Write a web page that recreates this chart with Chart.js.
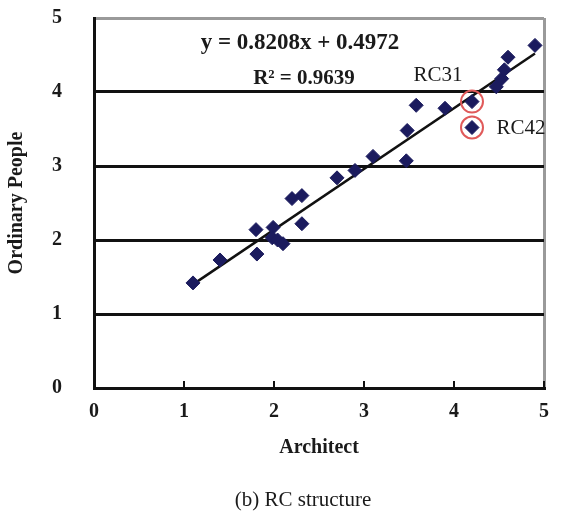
<!DOCTYPE html>
<html lang="en">
<head>
    <meta charset="UTF-8">
    <title>RC structure</title>
    <style>
        body { margin: 0; background: #fff; }
        #chart { display: block; }
    </style>
</head>
<body>
    <canvas id="chart" width="567" height="520"></canvas>

    <script src="https://cdn.jsdelivr.net/npm/chart.js"></script>
    <script>
        // Architect score vs ordinary people score (RC structure)
        var architect = [1.1, 1.4, 1.8, 1.81, 1.99, 1.98, 2.04, 2.1, 2.2, 2.31, 2.31, 2.7, 2.9, 3.1, 3.47, 3.48, 3.58, 3.9, 4.2, 4.2, 4.47, 4.53, 4.56, 4.6, 4.9];
        var ordinary  = [1.42, 1.73, 2.14, 1.81, 2.17, 2.03, 2.0, 1.95, 2.56, 2.6, 2.22, 2.84, 2.94, 3.13, 3.07, 3.48, 3.82, 3.78, 3.87, 3.52, 4.07, 4.18, 4.3, 4.47, 4.63];

        // highlighted buildings
        var markedNames = ['RC31', 'RC42'];
        var markedX = [4.2, 4.2];
        var markedY = [3.87, 3.52];

        // regression line from the fitted equation
        var slope = 0.8208;
        var intercept = 0.4972;
        var rSquared = 0.9639;
        var lineX = [1.1, 4.9];

        var tickValues = [0, 1, 2, 3, 4, 5];

        var serif = "'Liberation Serif', 'Times New Roman', serif";

        var points = architect.map(function (x, i) {
            return { x: x, y: ordinary[i] };
        });
        var marked = markedX.map(function (x, i) {
            return { x: x, y: markedY[i] };
        });
        var trend = lineX.map(function (x) {
            return { x: x, y: slope * x + intercept };
        });

        // texts, inward tick marks and caption
        var extras = {
            id: 'extras',
            afterDraw: function (chart) {
                var ctx = chart.ctx;
                var xs = chart.scales.x;
                var area = chart.chartArea;
                ctx.save();
                ctx.strokeStyle = '#111';
                ctx.lineWidth = 2;
                tickValues.forEach(function (v) {
                    if (v === 0) return;
                    var px = xs.getPixelForValue(v);
                    ctx.beginPath();
                    ctx.moveTo(px, area.bottom);
                    ctx.lineTo(px, area.bottom - 7);
                    ctx.stroke();
                });

                ctx.fillStyle = '#1a1a1a';
                ctx.textAlign = 'center';
                ctx.textBaseline = 'middle';
                ctx.font = 'bold 23px ' + serif;
                ctx.fillText('y = ' + slope + 'x + ' + intercept, 300, 43);
                ctx.font = 'bold 21px ' + serif;
                ctx.fillText('R\u00B2 = ' + rSquared, 304, 79);

                ctx.font = '21px ' + serif;
                ctx.fillText(markedNames[0], 438, 75);
                ctx.fillText(markedNames[1], 521, 128);

                ctx.font = '21px ' + serif;
                ctx.fillText('(b) RC structure', 303, 500);
                ctx.restore();
            }
        };

        new Chart(document.getElementById('chart'), {
            type: 'scatter',
            data: {
                datasets: [
                    {
                        label: 'marked',
                        data: marked,
                        pointStyle: 'circle',
                        pointRadius: 11,
                        backgroundColor: 'rgba(0,0,0,0)',
                        borderColor: '#e05a5a',
                        borderWidth: 2
                    },
                    {
                        label: 'RC',
                        data: points,
                        pointStyle: 'rectRot',
                        pointRadius: 7,
                        backgroundColor: '#1b1b5e',
                        borderColor: '#1b1b5e',
                        borderWidth: 1
                    },
                    {
                        type: 'line',
                        label: 'fit',
                        data: trend,
                        borderColor: '#111',
                        borderWidth: 2.5,
                        pointRadius: 0,
                        fill: false
                    }
                ]
            },
            options: {
                responsive: false,
                animation: false,
                layout: { padding: { top: 18, right: 23, left: 0, bottom: 0 } },
                plugins: {
                    legend: { display: false },
                    tooltip: { enabled: false }
                },
                scales: {
                    x: {
                        type: 'linear',
                        min: 0,
                        max: 5,
                        afterFit: function (s) {
                            s.height = 132;
                            s.paddingLeft = 0;
                            s.paddingRight = 0;
                        },
                        ticks: {
                            stepSize: 1,
                            padding: 12,
                            color: '#1a1a1a',
                            font: { family: serif, size: 20, weight: 'bold' }
                        },
                        grid: {
                            drawTicks: false,
                            lineWidth: 3,
                            color: function (c) {
                                return c.tick && c.tick.value === 5 ? '#9a9a9a' : 'rgba(0,0,0,0)';
                            }
                        },
                        border: { color: '#111', width: 3 },
                        title: {
                            display: true,
                            text: 'Architect',
                            color: '#1a1a1a',
                            padding: { bottom: 60 },
                            font: { family: serif, size: 20, weight: 'bold' }
                        }
                    },
                    y: {
                        min: 0,
                        max: 5,
                        afterFit: function (s) {
                            s.width = 94;
                            s.paddingTop = 0;
                            s.paddingBottom = 0;
                        },
                        ticks: {
                            stepSize: 1,
                            padding: 32,
                            color: '#1a1a1a',
                            font: { family: serif, size: 20, weight: 'bold' }
                        },
                        grid: {
                            drawTicks: false,
                            lineWidth: 3,
                            color: function (c) {
                                return c.tick && c.tick.value === 5 ? '#9a9a9a' : '#111';
                            }
                        },
                        border: { color: '#111', width: 3 },
                        title: {
                            display: true,
                            text: 'Ordinary People',
                            color: '#1a1a1a',
                            padding: { top: 5 },
                            font: { family: serif, size: 20, weight: 'bold' }
                        }
                    }
                }
            },
            plugins: [extras]
        });
    </script>
</body>
</html>
